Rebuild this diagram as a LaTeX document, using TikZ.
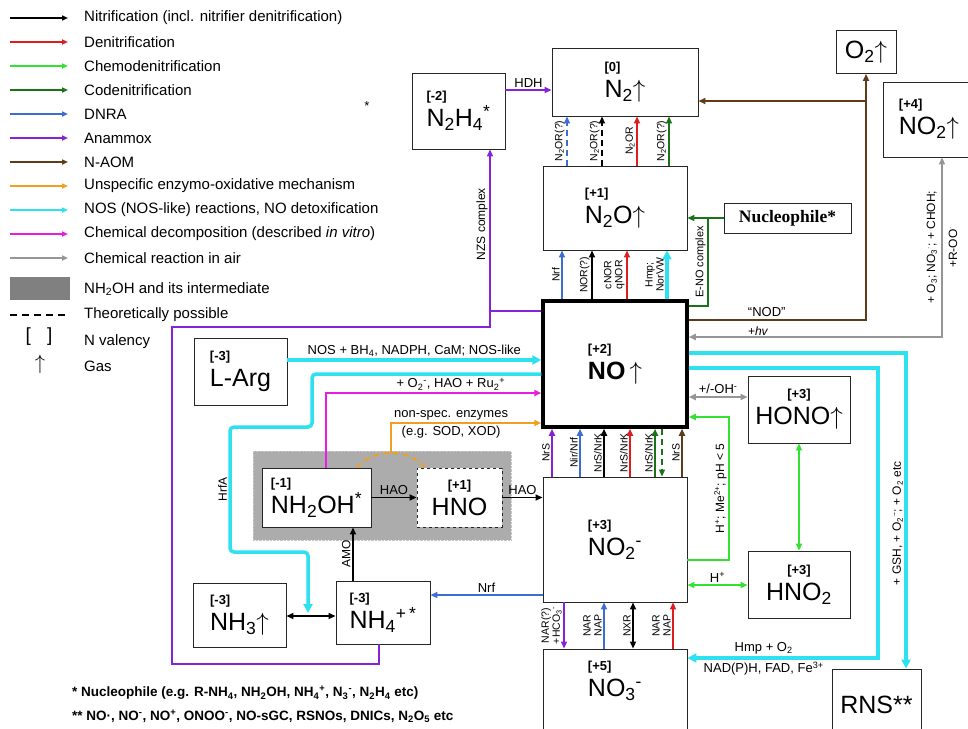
\documentclass[tikz,border=0pt]{standalone}
\usepackage{fontspec}
\setmainfont{Liberation Sans}
\newfontfamily\serifbf{Liberation Serif}
\usetikzlibrary{arrows.meta,positioning}

\definecolor{denit}{RGB}{222,30,30}
\definecolor{chemo}{RGB}{50,225,50}
\definecolor{codenit}{RGB}{25,115,25}
\definecolor{dnra}{RGB}{60,110,210}
\definecolor{anam}{RGB}{135,35,215}
\definecolor{naom}{RGB}{95,60,25}
\definecolor{unsp}{RGB}{240,160,30}
\definecolor{nos}{RGB}{45,225,240}
\definecolor{chemd}{RGB}{230,30,225}
\definecolor{air}{RGB}{150,150,150}

\newcommand{\valen}[1]{{\fontsize{13}{13}\selectfont\bfseries #1}}
\newcommand{\gas}{$\uparrow$}

\begin{document}
\begin{tikzpicture}[x=1pt, y=-1pt,
  font=\fontsize{13}{15}\selectfont,
  species/.style={draw=black!85, fill=white, line width=0.9pt, align=left, inner sep=2pt, font=\fontsize{25}{26}\selectfont},
  arr/.style={-{Triangle[length=7pt,width=6pt]}, line width=1.8pt},
  darr/.style={{Triangle[length=7pt,width=6pt]}-{Triangle[length=7pt,width=6pt]}, line width=1.8pt},
  nosarr/.style={nos, line width=3.5pt, -{Triangle[length=9pt,width=9pt]}},
  legarr/.style={-{Triangle[length=6pt,width=5pt]}, line width=1.6pt},
  legtxt/.style={anchor=west, inner sep=0pt, font=\fontsize{15}{17}\selectfont},
  theo/.style={dash pattern=on 6pt off 4pt},
  enz/.style={rotate=90, anchor=south, text=black, font=\fontsize{10.5}{11}\selectfont, inner sep=1.5pt, align=center},
  rlab/.style={rotate=90, text=black, font=\fontsize{12}{13}\selectfont, inner sep=1.5pt, align=center},
  lab/.style={text=black, font=\fontsize{13}{14}\selectfont, inner sep=2pt},
  foot/.style={anchor=west, inner sep=0pt, font=\fontsize{13.5}{14}\selectfont\bfseries}
]
\useasboundingbox (0,0) rectangle (968,728);
\fill[white] (0,0) rectangle (968,728);

% --- legend
\foreach \col/\lbl [count=\i] in {black/Nitrification (incl. nitrifier denitrification), denit/Denitrification, chemo/Chemodenitrification, codenit/Codenitrification, dnra/DNRA, anam/Anammox, naom/N-AOM, unsp/Unspecific enzymo-oxidative mechanism, nos/{NOS (NOS-like) reactions, NO detoxification}, chemd/Chemical decomposition (described \textit{in vitro}), air/Chemical reaction in air}{
  \pgfmathsetmacro\ly{18+24*(\i-1)}
  \draw[legarr, \col] (10,\ly) -- (68,\ly);
  \node[legtxt] (leg\i) at (84,\ly) {\lbl};
}
\node[fill=gray, minimum width=60, minimum height=23, inner sep=0pt] (legbox) at (40,288.5) {};
\node[legtxt] (leg12) at (84,289) {NH\textsubscript{2}OH and its intermediate};
\draw[line width=2pt, dash pattern=on 7pt off 5pt] (10,315) -- (65,315);
\node[legtxt] (leg13) at (84,315) {Theoretically possible};
\node[font=\fontsize{19}{19}\selectfont, inner sep=0pt] (legval) at (39,337) {[\hspace{16pt}]};
\node[legtxt] (leg14) at (84,342) {N valency};
\node[font=\fontsize{20}{20}\selectfont, inner sep=0pt] (leggas) at (40,364) {\gas};
\node[legtxt] (leg15) at (84,366) {Gas};
\node (star) at (367,106) {*};

% --- hydroxylamine region
\node[fill=gray!65, draw=gray!45, densely dotted, minimum width=258, minimum height=89, inner sep=0pt] (hagrp) at (382,495.5) {};

% --- species
\node[species, minimum width=146, minimum height=68] (n2) at (625,82) {\valen{[0]}\\N\textsubscript{2}\gas};
\node[species, minimum width=93, minimum height=76] (n2h4) at (458.5,111) {\valen{[-2]}\\N\textsubscript{2}H\textsubscript{4}\textsuperscript{*}};
\node[species, minimum width=144, minimum height=84] (n2o) at (615,208) {\valen{[+1]}\\N\textsubscript{2}O\gas};
\node[species, minimum width=127, minimum height=30, align=center, font=\serifbf\bfseries\fontsize{17.5}{18}\selectfont] (nucl) at (787.5,218) {Nucleophile*};
\node[species, line width=3.5pt, draw=black, minimum width=144, minimum height=126] (no) at (615,364) {\valen{[+2]}\\\textbf{NO}\,\gas};
\node[species, minimum width=144, minimum height=125] (no2m) at (615,539.5) {\valen{[+3]}\\NO\textsubscript{2}\textsuperscript{-}};
\node[species, minimum width=144, minimum height=90] (no3m) at (615,694) {};
\node[align=left, inner sep=0pt, font=\fontsize{25}{26}\selectfont] (no3txt) at (615,681) {\valen{[+5]}\\NO\textsubscript{3}\textsuperscript{-}};
\node[species, align=center, minimum width=102, minimum height=67] (hono) at (799,409.5) {\valen{[+3]}\\HONO\gas};
\node[species, align=center, minimum width=102, minimum height=67] (hno2) at (799,584.5) {\valen{[+3]}\\HNO\textsubscript{2}};
\node[species, minimum width=89, minimum height=72] (rns) at (876.5,705) {RNS**};
\node[species, minimum width=60, minimum height=43] (o2) at (866,52) {O\textsubscript{2}\gas};
\node[species, minimum width=92, minimum height=75] (no2up) at (929,119.5) {\valen{[+4]}\\NO\textsubscript{2}\gas};
\node[species, minimum width=93, minimum height=67] (larg) at (240.5,371.5) {\valen{[-3]}\\L-Arg};
\node[species, minimum width=109, minimum height=59] (nh2oh) at (316.5,497.5) {\valen{[-1]}\\NH\textsubscript{2}OH\textsuperscript{*}};
\node[species, dashed, align=center, minimum width=85, minimum height=59] (hno) at (459.5,497.5) {\valen{[+1]}\\HNO};
\node[species, minimum width=93, minimum height=64] (nh3) at (239.5,615) {\valen{[-3]}\\NH\textsubscript{3}\gas};
\node[species, minimum width=94, minimum height=63] (nh4) at (383,612.5) {\valen{[-3]}\\NH\textsubscript{4}\textsuperscript{+\,*}};

% --- junctions
\coordinate (nzs) at (490,311);
\coordinate (eno) at (708,218);
\coordinate (aom) at (866,101);
\coordinate (nsp) at (391,453);

% --- to N2
\draw[arr, anam] (n2h4.east |- 0,90) -- node[above, lab]{HDH} (n2.west |- 0,90);
\draw[arr, dnra, theo] (n2o.north -| 567,0) -- node[enz]{N\textsubscript{2}OR(?)} (n2.south -| 567,0);
\draw[arr, theo] (n2o.north -| 602,0) -- node[enz]{N\textsubscript{2}OR(?)} (n2.south -| 602,0);
\draw[arr, denit] (n2o.north -| 637,0) -- node[enz]{N\textsubscript{2}OR} (n2.south -| 637,0);
\draw[arr, codenit] (n2o.north -| 669,0) -- node[enz]{N\textsubscript{2}OR(?)} (n2.south -| 669,0);
\draw[arr, naom] (aom) -- (n2.east |- aom);

% --- to N2O
\draw[arr, dnra] (no.north -| 562,0) -- node[enz]{Nrf} (n2o.south -| 562,0);
\draw[arr] (no.north -| 592,0) -- node[enz]{NOR(?)} (n2o.south -| 592,0);
\draw[arr, denit] (no.north -| 627,0) -- node[enz]{cNOR\\qNOR} (n2o.south -| 627,0);
\draw[nosarr] (no.north -| 667,0) -- node[enz]{Hmp;\\NorVW} (n2o.south -| 667,0);
\draw[arr, codenit] (nucl.west) -- (n2o.east |- nucl.west);
\draw[codenit, line width=1.8pt] (eno) -- node[rlab, anchor=south, font=\fontsize{11}{12}\selectfont]{E-NO complex} (eno |- 0,306) -- (no.east |- 0,306);

% --- anammox loop to N2H4
\draw[arr, anam] (nh4.south -| 379,0) |- (172,664) |- (490,327) -- node[rlab, anchor=south, pos=0.58]{NZS complex} (n2h4.south -| 490,0);
\draw[anam, line width=1.8pt] (no.west |- nzs) -- (nzs);

% --- into NO from the left
\draw[nosarr] (larg.east |- 0,360) -- node[above, lab]{NOS + BH\textsubscript{4}, NADPH, CaM; NOS-like} (no.west |- 0,360);
\draw[nosarr, rounded corners=4pt] (no.west |- 0,374) -| (312,427) -| node[rlab, anchor=south, pos=0.75]{HrfA} (230,552) -| (308,613);
\draw[arr, chemd] (nh2oh.north -| 326,0) |- node[above, lab, pos=0.79]{+ O\textsubscript{2}\textsuperscript{-}, HAO + Ru\textsubscript{2}\textsuperscript{+}} (no.west |- 0,393);
\draw[arr, unsp] (nsp) |- node[above, lab, pos=0.7]{non-spec. enzymes} node[below, lab, pos=0.7]{(e.g. SOD, XOD)} (no.west |- 0,423);
\draw[unsp, line width=1.8pt, theo] (nh2oh.north -| 357,0) .. controls (373,448) and (409,448) .. (hno.north -| 425,0);

% --- nitrification chain
\draw[arr] (nh2oh.east) -- node[above, lab]{HAO} (hno.west);
\draw[arr] (hno.east) -- node[above, lab]{HAO} (no2m.west |- hno.east);
\draw[arr] (nh4.north -| 353,0) -- node[rlab, anchor=south]{AMO} (nh2oh.south -| 353,0);
\draw[darr, line width=1.5pt] (nh3.east |- 0,616) -- (nh4.west |- 0,616);
\draw[arr, dnra] (no2m.west |- 0,595) -- node[above, lab]{Nrf} (nh4.east |- 0,595);

% --- NO2- to NO
\draw[arr, anam] (no2m.north -| 552,0) -- node[enz]{NrS} (no.south -| 552,0);
\draw[arr, dnra] (no2m.north -| 580,0) -- node[enz]{Nir/Nrf} (no.south -| 580,0);
\draw[arr] (no2m.north -| 604,0) -- node[enz]{NrS/NrK} (no.south -| 604,0);
\draw[arr, denit] (no2m.north -| 630,0) -- node[enz]{NrS/NrK} (no.south -| 630,0);
\draw[arr, codenit] (no2m.north -| 655,0) -- node[enz]{NrS/NrK} (no.south -| 655,0);
\draw[arr, codenit, theo, line width=1.1pt] (no.south -| 662,0) -- (no2m.north -| 662,0);
\draw[arr, naom] (no2m.north -| 682,0) -- node[enz]{NrS} (no.south -| 682,0);

% --- NO2- and NO3-
\draw[arr, anam] (no2m.south -| 564,0) -- node[enz]{NAR(?)\\+HCO\textsubscript{3}\textsuperscript{-}} (no3m.north -| 564,0);
\draw[arr, dnra] (no3m.north -| 604,0) -- node[enz]{NAR\\NAP} (no2m.south -| 604,0);
\draw[darr] (no3m.north -| 633,0) -- node[enz]{NXR} (no2m.south -| 633,0);
\draw[arr, denit] (no3m.north -| 673,0) -- node[enz]{NAR\\NAP} (no2m.south -| 673,0);

% --- right side of NO
\draw[arr, naom] (no.east |- 0,320) -| node[above, lab, pos=0.22]{``NOD''} (o2.south);
\draw[darr, air] (no.east |- 0,337) -| node[above, lab, pos=0.137, inner sep=0.5pt, font=\fontsize{12}{13}\selectfont]{+\textit{hv}} node[rlab, pos=0.75]{+ O\textsubscript{3}; NO\textsubscript{3}\textsuperscript{$\cdot$}; + CHOH;\\[9pt]+R-OO\textsuperscript{$\cdot$}} (no2up.south -| 942,0);
\draw[darr, air] (no.east |- 0,397) -- node[above, lab]{+/-OH\textsuperscript{-}} (hono.west |- 0,397);
\draw[arr, chemo] (no2m.east |- 0,560) -| node[rlab, anchor=south, pos=0.75]{H\textsuperscript{+}; Me\textsuperscript{2+}; pH < 5} (729,417) -- (no.east |- 0,417);
\draw[darr, chemo] (hono.south) -- (hno2.north);
\draw[darr, chemo] (no2m.east |- 0,585) -- node[above, lab]{H\textsuperscript{+}} (hno2.west |- 0,585);
\draw[nosarr] (no.east |- 0,353) -| node[rlab, anchor=south, pos=0.77]{+ GSH, + O\textsubscript{2}\textsuperscript{$\cdot$-}; + O\textsubscript{2} etc} (rns.north -| 906,0);
\draw[nosarr] (no.east |- 0,368) -| (878,658) -- node[above, lab, pos=0.6]{Hmp + O\textsubscript{2}} node[below, lab, pos=0.6]{NAD(P)H, FAD, Fe\textsuperscript{3+}} (no3m.east |- 0,658);

% --- footnotes
\node[foot] (fn1) at (72,693) {* Nucleophile (e.g. R-NH\textsubscript{4}, NH\textsubscript{2}OH, NH\textsubscript{4}\textsuperscript{+}, N\textsubscript{3}\textsuperscript{-}, N\textsubscript{2}H\textsubscript{4} etc)};
\node[foot] (fn2) at (72,716) {** NO·, NO\textsuperscript{-}, NO\textsuperscript{+}, ONOO\textsuperscript{-}, NO-sGC, RSNOs, DNICs, N\textsubscript{2}O\textsubscript{5} etc};
\end{tikzpicture}
\end{document}
